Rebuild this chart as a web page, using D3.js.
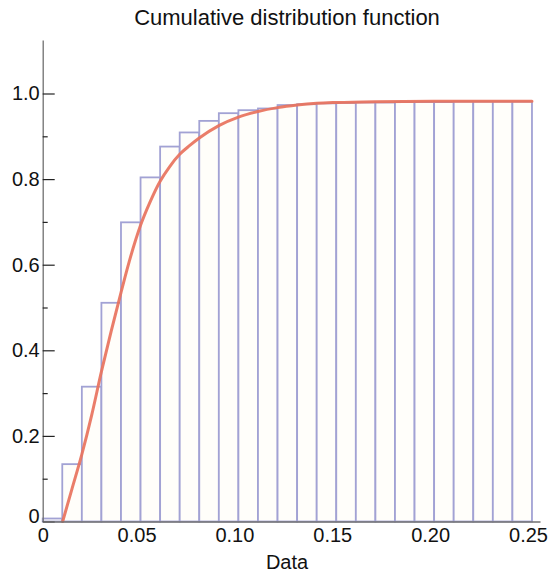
<!DOCTYPE html>
<html>
<head>
<meta charset="utf-8">
<script src="https://cdn.jsdelivr.net/npm/d3@7"></script>
<style>
  html, body { margin: 0; padding: 0; background: #fff; }
  svg { display: block; font-family: "Liberation Sans", Helvetica, Arial, sans-serif; }
</style>
</head>
<body>
<svg id="chart" width="558" height="575"></svg>
<script>
// Cumulative histogram: bin edges (width 0.01) and cumulative fraction per bin
const binStarts = [0.00, 0.01, 0.02, 0.03, 0.04, 0.05, 0.06, 0.07, 0.08, 0.09,
                   0.10, 0.11, 0.12, 0.13, 0.14, 0.15, 0.16, 0.17, 0.18, 0.19,
                   0.20, 0.21, 0.22, 0.23, 0.24];
const binWidth = 0.01;
const cumulative = [0.007, 0.134, 0.315, 0.511, 0.699, 0.804, 0.876, 0.909, 0.936, 0.954,
                    0.961, 0.965, 0.973, 0.975, 0.977, 0.978, 0.979, 0.979, 0.980, 0.980,
                    0.980, 0.981, 0.981, 0.981, 0.981];

// Fitted smooth CDF
const cdfX = [0.0102, 0.015, 0.020, 0.025, 0.030, 0.035, 0.040, 0.045, 0.050, 0.055,
              0.060, 0.065, 0.070, 0.075, 0.080, 0.090, 0.100, 0.110, 0.120, 0.130,
              0.140, 0.150, 0.170, 0.200, 0.250];
const cdfY = [0.000, 0.077, 0.157, 0.248, 0.350, 0.445, 0.535, 0.620, 0.692, 0.748,
              0.795, 0.830, 0.858, 0.878, 0.896, 0.925, 0.945, 0.958, 0.967, 0.973,
              0.977, 0.979, 0.981, 0.982, 0.982];

// Axis ticks
const xTicks = [0, 0.05, 0.10, 0.15, 0.20, 0.25];
const xTickLabels = ["0", "0.05", "0.10", "0.15", "0.20", "0.25"];
const yMajor = [0, 0.2, 0.4, 0.6, 0.8, 1.0];
const yMajorLabels = ["0", "0.2", "0.4", "0.6", "0.8", "1.0"];
const yMinor = [0.1, 0.3, 0.5, 0.7, 0.9];

const titleText = "Cumulative distribution function";
const xTitle = "Data";

const svg = d3.select("#chart");

const x = d3.scaleLinear().domain([0, 0.2541]).range([42.7, 540]);
const y = d3.scaleLinear().domain([0, 1.125]).range([521.5, 40]);

// Bars
svg.append("g")
  .selectAll("rect")
  .data(binStarts.map((s, i) => ({ s, v: cumulative[i] })))
  .join("rect")
  .attr("x", d => x(d.s))
  .attr("width", d => x(d.s + binWidth) - x(d.s))
  .attr("y", d => y(d.v))
  .attr("height", d => y(0) - y(d.v))
  .attr("fill", "#fffefa")
  .attr("stroke", "#a2a2d4")
  .attr("stroke-width", 1.8);

// Smooth CDF curve
const line = d3.line()
  .x(d => x(d[0]))
  .y(d => y(d[1]))
  .curve(d3.curveMonotoneX);

svg.append("path")
  .datum(cdfX.map((v, i) => [v, cdfY[i]]))
  .attr("d", line)
  .attr("fill", "none")
  .attr("stroke", "#e8725c")
  .attr("stroke-width", 3)
  .attr("stroke-opacity", 0.92)
  .attr("stroke-linecap", "round");

// Y axis: major ticks with labels, drawn inward
const yAxis = d3.axisLeft(y)
  .tickValues(yMajor)
  .tickFormat((d, i) => yMajorLabels[i])
  .tickSizeInner(-12)
  .tickSizeOuter(0)
  .tickPadding(3);

const gy = svg.append("g")
  .attr("transform", `translate(${x(0)},0)`)
  .call(yAxis);

gy.select(".domain").attr("stroke", "#707070").attr("stroke-width", 1.3);
gy.selectAll(".tick line").attr("stroke", "#222").attr("stroke-width", 1.2);
gy.selectAll(".tick text")
  .attr("font-size", 20)
  .attr("fill", "#111")
  .attr("font-family", "Liberation Sans, Helvetica, Arial, sans-serif")
  .filter(d => d === 0).attr("dy", "0.07em");

// Minor y ticks
const yMinorAxis = d3.axisLeft(y)
  .tickValues(yMinor)
  .tickFormat("")
  .tickSizeInner(-5)
  .tickSizeOuter(0);

const gym = svg.append("g")
  .attr("transform", `translate(${x(0)},0)`)
  .call(yMinorAxis);
gym.select(".domain").remove();
gym.selectAll(".tick line").attr("stroke", "#222").attr("stroke-width", 1.2);

// X axis: labels only
const xAxis = d3.axisBottom(x)
  .tickValues(xTicks)
  .tickFormat((d, i) => xTickLabels[i])
  .tickSizeInner(0)
  .tickSizeOuter(0)
  .tickPadding(6);

const gx = svg.append("g")
  .attr("transform", `translate(0,${y(0)})`)
  .call(xAxis);

gx.select(".domain").attr("stroke", "#707070").attr("stroke-width", 1.3);
gx.selectAll(".tick text")
  .attr("font-size", 20)
  .attr("fill", "#111")
  .attr("font-family", "Liberation Sans, Helvetica, Arial, sans-serif")
  .attr("dx", d => d === 0 ? 0 : -4);

// Titles
svg.append("text")
  .attr("x", 287)
  .attr("y", 25)
  .attr("text-anchor", "middle")
  .attr("font-size", 22)
  .attr("fill", "#111")
  .text(titleText);

svg.append("text")
  .attr("x", 287)
  .attr("y", 569)
  .attr("text-anchor", "middle")
  .attr("font-size", 20)
  .attr("fill", "#111")
  .text(xTitle);
</script>
</body>
</html>
